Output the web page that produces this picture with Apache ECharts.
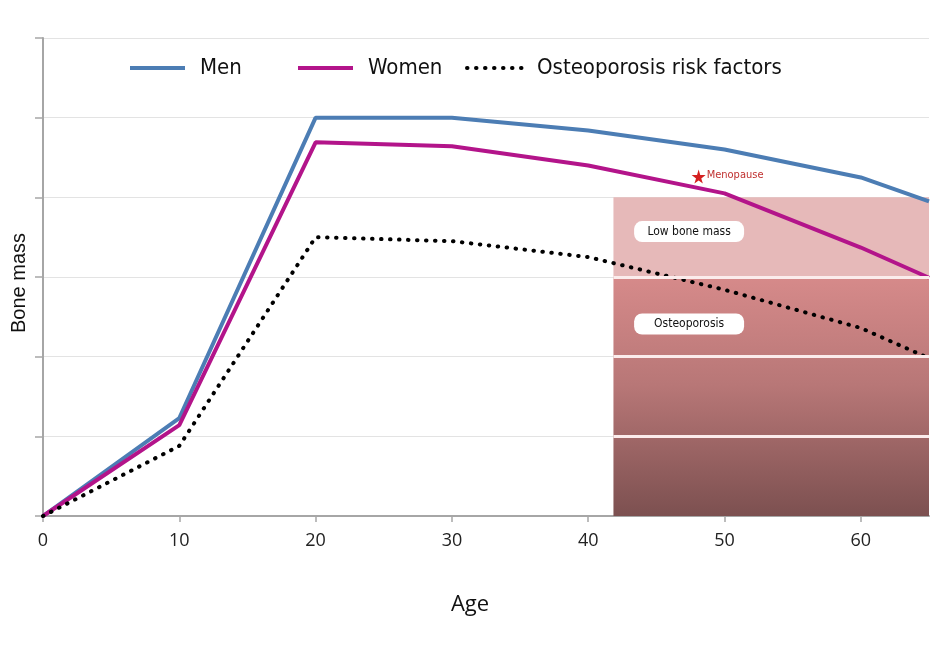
<!DOCTYPE html>
<html>
<head>
<meta charset="utf-8">
<script src="https://cdn.jsdelivr.net/npm/echarts@6/dist/echarts.min.js"></script>
<style>html,body{margin:0;padding:0;background:#fff;}#c{width:940px;height:651px;}</style>
</head>
<body>
<div id="c"></div>
<script>
// ---- data ----
const ages = [0, 10, 20, 30, 40, 50, 60, 65];
const men = [0, 1.23, 5.0, 5.0, 4.84, 4.6, 4.25, 3.95];
const women = [0, 1.14, 4.69, 4.64, 4.40, 4.05, 3.37, 2.99];
const riskFactors = [0, 0.88, 3.5, 3.45, 3.25, 2.84, 2.36, 1.98];
const seriesNames = ['Men', 'Women', 'Osteoporosis risk factors'];
// zones: [xStart, xEnd, yLow, yHigh]
const lowBoneMassZone = [41.85, 65, 3, 4];
const osteoporosisZone = [41.85, 65, 0, 3];
const zoneLines = [1, 2, 3];
const zoneLabels = [['Low bone mass', 47.4, 3.57], ['Osteoporosis', 47.4, 2.41]];
const menopause = ['Menopause', 48.1, 4.26];

const condensed = '"Liberation Sans Narrow","DejaVu Sans Condensed","Roboto",sans-serif';
const boxPath = 'path://M8,0 H102 A8,8 0 0 1 110,8 V13 A8,8 0 0 1 102,21 H8 A8,8 0 0 1 0,13 V8 A8,8 0 0 1 8,0 Z';
const chart = echarts.init(document.getElementById('c'));
const pair = a => ages.map((x, i) => [x, a[i]]);

chart.setOption({
  animation: false,
  grid: { left: 43, right: 11, top: 38, bottom: 135 },
  legend: [
    { data: [seriesNames[0]], left: 128, top: 57 },
    { data: [seriesNames[1]], left: 296, top: 57 },
    { data: [seriesNames[2]], left: 465, top: 57 }
  ].map(l => Object.assign(l, {
    itemWidth: 55, itemHeight: 14, selectedMode: false, padding: 0,
    itemStyle: { opacity: 0 },
    lineStyle: { width: 4 },
    textStyle: { fontFamily: condensed, fontSize: 22, color: '#111', padding: [0, 0, 0, 10] }
  })),
  xAxis: {
    type: 'value', min: 0, max: 65, interval: 10,
    name: 'Age', nameLocation: 'middle', nameGap: 78,
    nameTextStyle: { fontFamily: '"Open Sans",sans-serif', fontSize: 22, color: '#111', padding: [0, 32, 0, 0] },
    axisLine: { lineStyle: { color: '#a6a6a6', width: 2 } },
    axisTick: { show: true, length: 6, lineStyle: { color: '#a6a6a6', width: 1.5 } },
    axisLabel: { showMaxLabel: false, fontFamily: '"Open Sans",sans-serif', fontSize: 18, color: '#222', margin: 16 },
    splitLine: { show: false }
  },
  yAxis: {
    type: 'value', min: 0, max: 6, interval: 1,
    name: 'Bone mass', nameLocation: 'middle', nameGap: 14,
    nameTextStyle: { fontFamily: '"Liberation Sans",Arial,sans-serif', fontSize: 20, color: '#111', padding: [0, 12, 0, 0] },
    axisLine: { show: true, lineStyle: { color: '#a6a6a6', width: 2 } },
    axisTick: { show: true, length: 8, lineStyle: { color: '#a6a6a6', width: 1.5 } },
    axisLabel: { show: false },
    splitLine: { lineStyle: { color: '#e3e3e3', width: 1 } }
  },
  series: [
    {
      type: 'line', name: 'zones', data: [], silent: true,
      markArea: {
        silent: true,
        data: [
          [{ coord: [lowBoneMassZone[0], lowBoneMassZone[3]], itemStyle: { color: '#e6b9b9' } },
           { coord: [lowBoneMassZone[1], lowBoneMassZone[2]] }],
          [{ coord: [osteoporosisZone[0], osteoporosisZone[3]],
             itemStyle: { color: new echarts.graphic.LinearGradient(0, 0, 0, 1, [
               { offset: 0, color: '#d68a8a' }, { offset: 0.45, color: '#b87777' }, { offset: 1, color: '#7c5050' }]) } },
           { coord: [osteoporosisZone[1], osteoporosisZone[2]] }]
        ]
      },
      markLine: {
        silent: true, symbol: 'none', label: { show: false },
        lineStyle: { color: '#fbecec', width: 3, type: 'solid' },
        data: zoneLines.map(y => [{ coord: [lowBoneMassZone[0], y] }, { coord: [lowBoneMassZone[1], y] }])
      },
      markPoint: {
        silent: true,
        data: zoneLabels.map(z => ({
          coord: [z[1], z[2]], symbol: boxPath, symbolSize: [110, 21], symbolKeepAspect: false,
          itemStyle: { color: '#fff' },
          label: { show: true, position: 'inside', formatter: z[0], color: '#111', fontSize: 12, fontFamily: condensed }
        })).concat([{
          coord: [menopause[1], menopause[2]], symbol: 'path://M50,0 L61,35 L98,35 L68,57 L79,91 L50,70 L21,91 L32,57 L2,35 L39,35 Z',
          symbolSize: 14, itemStyle: { color: '#d42020' },
          label: { show: true, position: 'right', distance: 1, formatter: menopause[0], color: '#c0302f', fontSize: 11, fontFamily: condensed, offset: [0, -1] }
        }])
      }
    },
    {
      type: 'line', name: seriesNames[0], data: pair(men), symbol: 'none', clip: true,
      color: '#4c7db4', lineStyle: { width: 4, color: '#4c7db4' }
    },
    {
      type: 'line', name: seriesNames[1], data: pair(women), symbol: 'none', clip: true,
      color: '#b3148a', lineStyle: { width: 4, color: '#b3148a' }
    },
    {
      type: 'line', name: seriesNames[2], data: pair(riskFactors), symbol: 'none', clip: true,
      color: '#000', lineStyle: { width: 4, color: '#000', type: [0.5, 8.5], cap: 'round' }
    }
  ]
});
</script>
</body>
</html>
